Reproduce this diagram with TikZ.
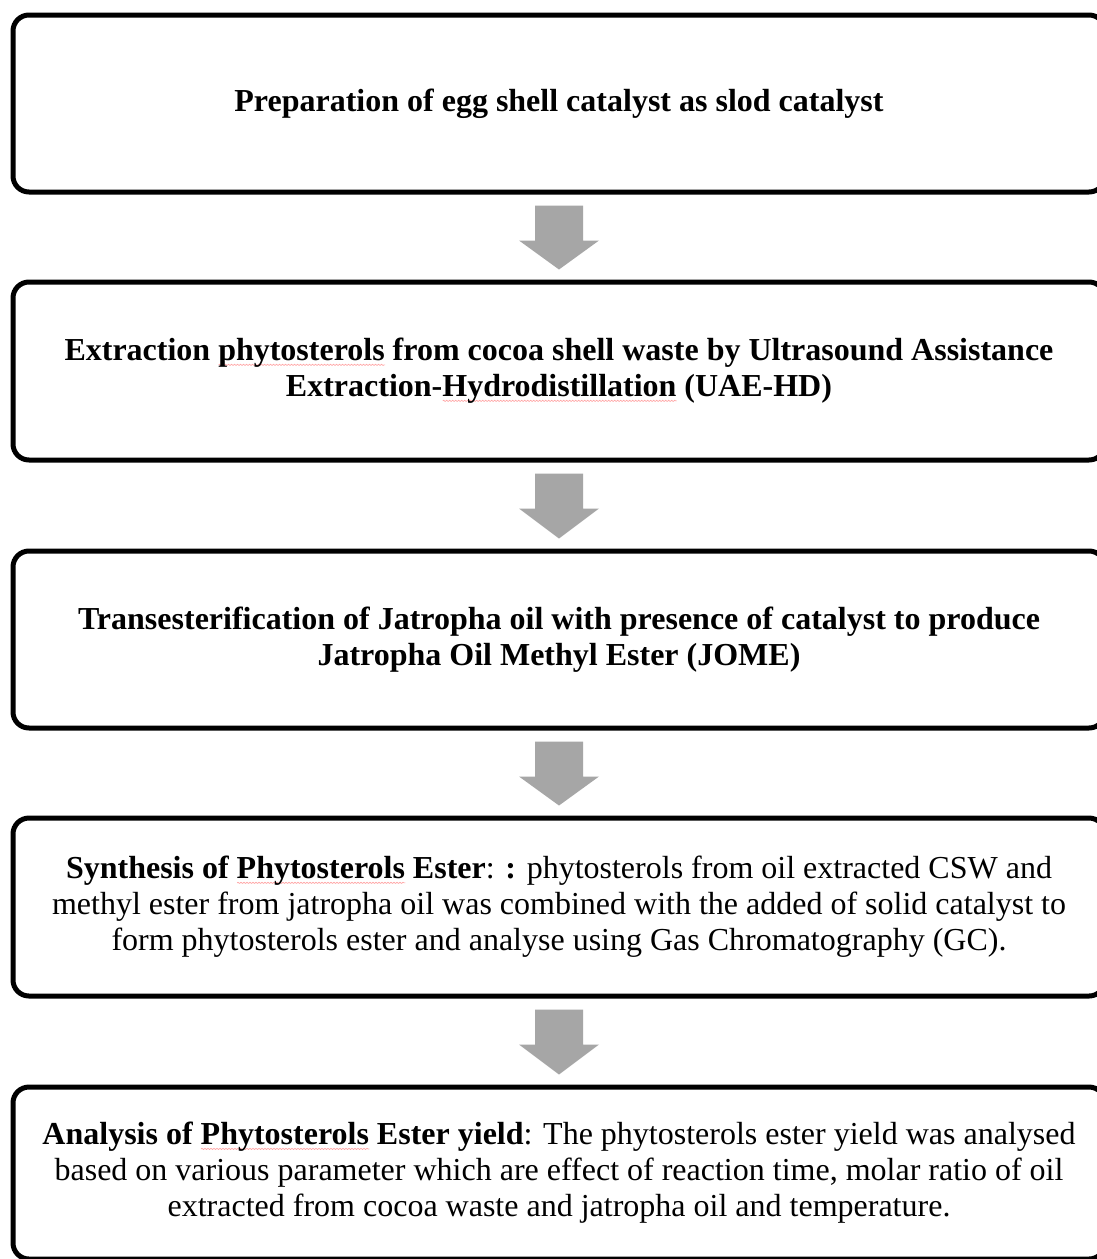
\documentclass[tikz,border=0pt]{standalone}
\usepackage{fontspec}
\setmainfont{Liberation Serif}
\usetikzlibrary{calc,decorations.pathmorphing}
\newcommand{\spellmark}[1]{\setbox0\hbox{#1}%
  \rlap{\raisebox{-5pt}[0pt][0pt]{\tikz[x=1pt,y=1pt,sharp corners]\draw[draw=red!35, fill=none, line width=0.7pt,
    decorate, decoration={snake, amplitude=0.6pt, segment length=3pt}] (0,0) -- (\the\wd0,0);}}%
  \box0\relax}
\tikzset{
  stepbox/.style={draw=black, line width=5pt, rounded corners=16pt, fill=white,
    minimum width=1092pt, align=center, inner sep=0pt,
    font=\fontsize{32}{36}\selectfont},
  flowarrow/.style={fill=black!35, draw=none}
}
\newcommand{\downarrowshape}[2]{%
  \fill[flowarrow] ($(#1.south)+(-24pt,-11pt)$) -- ($(#1.south)+(24pt,-11pt)$)
    -- ($(#1.south)+(24pt,-46pt)$) -- ($(#1.south)+(40pt,-46pt)$)
    -- ($(#2.north)+(0,10pt)$) -- ($(#1.south)+(-40pt,-46pt)$)
    -- ($(#1.south)+(-24pt,-46pt)$) -- cycle;}
\begin{document}
\begin{tikzpicture}[x=1pt,y=-1pt]
\clip (0,0) rectangle (1097,1259);
\fill[white] (0,0) rectangle (1097,1259);
\node[stepbox, minimum height=177pt] (b1) at (559,103.5)
  {\textbf{Preparation of egg shell catalyst as slod catalyst}};
\node[stepbox, minimum height=178pt] (b2) at (559,371)
  {\textbf{Extraction \spellmark{phytosterols} from cocoa shell waste by Ultrasound Assistance}\\
   \textbf{Extraction-\spellmark{Hydrodistillation} (UAE-HD)}};
\node[stepbox, minimum height=177pt] (b3) at (559,639.5)
  {\textbf{Transesterification of Jatropha oil with presence of catalyst to produce}\\
   \textbf{Jatropha Oil Methyl Ester (JOME)}};
\node[stepbox, minimum height=178pt] (b4) at (559,907)
  {\textbf{Synthesis of \spellmark{Phytosterols} Ester}: \textbf{:} phytosterols from oil extracted CSW and\\
   methyl ester from jatropha oil was combined with the added of solid catalyst to\\
   form phytosterols ester and analyse using Gas Chromatography (GC).};
\node[stepbox, minimum height=172pt] (b5) at (559,1173)
  {\textbf{Analysis of \spellmark{Phytosterols} Ester yield}: The phytosterols ester yield was analysed\\
   based on various parameter which are effect of reaction time, molar ratio of oil\\
   extracted from cocoa waste and jatropha oil and temperature.};
\downarrowshape{b1}{b2}
\downarrowshape{b2}{b3}
\downarrowshape{b3}{b4}
\downarrowshape{b4}{b5}
\end{tikzpicture}
\end{document}
